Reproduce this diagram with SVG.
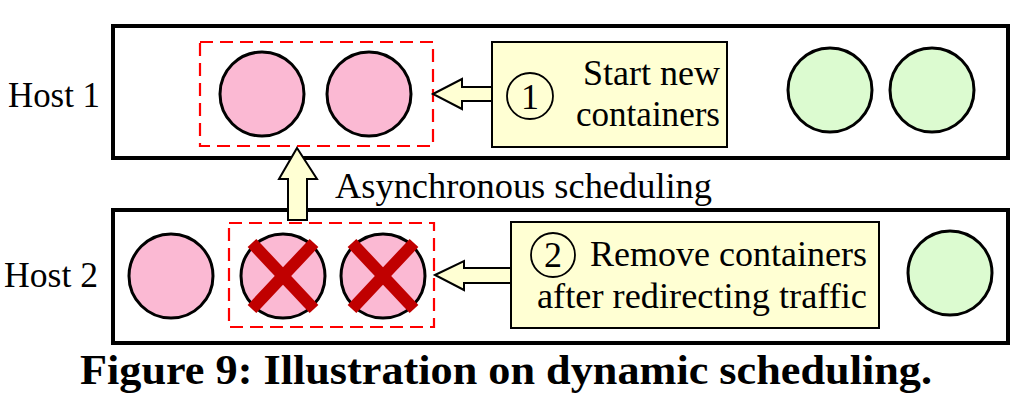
<svg xmlns="http://www.w3.org/2000/svg" width="1030" height="404" viewBox="0 0 1030 404" font-family="Liberation Serif, Times New Roman, serif">
<style>
.host{fill:#fff;stroke:#000;stroke-width:4}
.grp{fill:none;stroke:#ff0000;stroke-width:2.2;stroke-dasharray:13 7}
.pink{fill:#fbb9d3;stroke:#000;stroke-width:3}
.green{fill:#dcfbd0;stroke:#000;stroke-width:3}
.note{fill:#ffffd3;stroke:#000;stroke-width:2}
.arr{fill:#ffffd3;stroke:#000;stroke-width:2;stroke-linejoin:miter}
.x{stroke:#c00000;stroke-width:12;stroke-linecap:butt}
.t{font-size:36px;fill:#000}
.num{fill:none;stroke:#000;stroke-width:1.8}
.cap{font-size:42px;font-weight:bold;fill:#000}
</style>
<g id="host1">
<rect class="host" x="113" y="26" width="895" height="132"/>
<text class="t" x="8" y="107" textLength="92" lengthAdjust="spacingAndGlyphs">Host 1</text>
</g>
<g id="host2">
<rect class="host" x="113" y="210" width="895" height="133"/>
<text class="t" x="4" y="287" textLength="94" lengthAdjust="spacingAndGlyphs">Host 2</text>
</g>
<g id="group1">
<rect class="grp" x="200" y="42" width="233" height="104"/>
<circle class="pink" cx="262" cy="94" r="42"/>
<circle class="pink" cx="369" cy="94" r="42"/>
</g>
<g id="green1">
<circle class="green" cx="830" cy="90" r="42"/>
<circle class="green" cx="932" cy="90" r="42"/>
</g>
<g id="note1">
<rect class="note" x="492" y="42" width="235" height="105"/>
<circle class="num" cx="530" cy="96" r="23"/>
<text class="t" x="530" y="109" text-anchor="middle">1</text>
<text class="t" x="583" y="85" textLength="137" lengthAdjust="spacingAndGlyphs">Start new</text>
<text class="t" x="576" y="126" textLength="144" lengthAdjust="spacingAndGlyphs">containers</text>
</g>
<g id="pink2">
<circle class="pink" cx="171" cy="276" r="42"/>
</g>
<g id="group2">
<rect class="grp" x="229" y="223" width="205" height="104"/>
<circle class="pink" cx="283" cy="276" r="42"/>
<circle class="pink" cx="383" cy="276" r="42"/>
<line class="x" x1="252" y1="243" x2="314" y2="309"/>
<line class="x" x1="314" y1="243" x2="252" y2="309"/>
<line class="x" x1="352" y1="243" x2="414" y2="309"/>
<line class="x" x1="414" y1="243" x2="352" y2="309"/>
</g>
<g id="green2">
<circle class="green" cx="950" cy="273" r="42"/>
</g>
<g id="note2">
<rect class="note" x="511" y="222" width="368" height="106"/>
<circle class="num" cx="553" cy="255" r="22"/>
<text class="t" x="553" y="267" text-anchor="middle">2</text>
<text class="t" x="590" y="266" textLength="277" lengthAdjust="spacingAndGlyphs">Remove containers</text>
<text class="t" x="537" y="308" textLength="330" lengthAdjust="spacingAndGlyphs">after redirecting traffic</text>
</g>
<g id="connectors">
<polygon class="arr" points="433,94 462,79 462,87 492,87 492,101 462,101 462,109"/>
<polygon class="arr" points="435,275 464,261 464,268 511,268 511,283 464,283 464,290"/>
<polygon class="arr" points="297,148 317,179 307,179 307,220 288,220 288,179 279,179"/>
<text class="t" x="335" y="198" textLength="377" lengthAdjust="spacingAndGlyphs">Asynchronous scheduling</text>
</g>
<text class="cap" x="80" y="384" textLength="852" lengthAdjust="spacingAndGlyphs">Figure 9: Illustration on dynamic scheduling.</text>
</svg>
